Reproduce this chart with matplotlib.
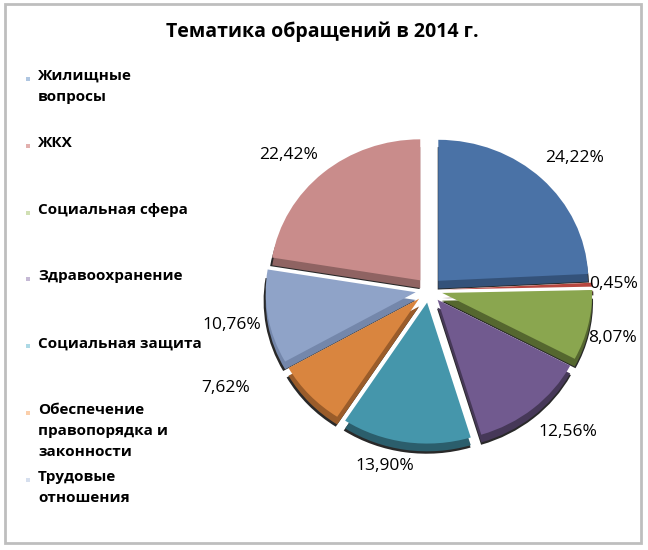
import matplotlib.pyplot as plt
from matplotlib.patches import Rectangle
import numpy as np

plt.rcParams['font.family'] = ['Open Sans', 'DejaVu Sans']

title = 'Тематика обращений в 2014 г.'
categories = ['Жилищные\nвопросы', 'ЖКХ', 'Социальная сфера', 'Здравоохранение',
              'Социальная защита', 'Обеспечение\nправопорядка и\nзаконности',
              'Трудовые\nотношения']
values = [24.22, 0.45, 8.07, 12.56, 13.90, 7.62, 10.76, 22.42]

top_colors = ['#4A72A6', '#B7463F', '#8AA64F', '#715A8F', '#4596AB', '#D9853F', '#8FA3C8', '#C98C8B']
side_colors = ['#34527A', '#7E2E2A', '#55672F', '#463858', '#2B5E6C', '#9A5C2A', '#7487AB', '#8F6362']
legend_colors = ['#4F81BD', '#C0504D', '#9BBB59', '#8064A2', '#4BACC6', '#F79646', '#A5B8DB']
# label placement tuning (radius factor, angle shift in degrees)
label_r = [1.26, 1.14, 1.18, 1.28, 1.19, 1.44, 1.25, 1.25]
label_dang = [-2.7, 0, -2.4, 3.3, -5.5, -17, 0.6, 4.4]

W, H = 648, 550
fig = plt.figure(figsize=(W / 100, H / 100), dpi=100)

# border
fig.patches.append(Rectangle((5 / W, 7 / H), 636 / W, 539 / H, transform=fig.transFigure,
                             fill=False, edgecolor='#BEBEBE', linewidth=2))

fig.text(322 / W, 1 - 32 / H, title, ha='center', va='center',
         fontsize=14, fontweight='bold')

# pie axes: 1 unit = 150 px horizontally, 141 px vertically
cx, cy, rx, ry = 429, 290, 150, 141
ext = 1.6
ax = fig.add_axes([(cx - ext * rx) / W, (H - cy - ext * ry) / H, 2 * ext * rx / W, 2 * ext * ry / H])
explode = [0.09] * len(values)

# shadow
ax.pie(values, colors=['#111111'] * len(values), startangle=90, counterclock=False,
       explode=explode, radius=1.01, center=(-0.004, -0.062),
       wedgeprops=dict(linewidth=0, alpha=0.9))
# side faces
ax.pie(values, colors=side_colors, startangle=90, counterclock=False,
       explode=explode, center=(0, -0.055), wedgeprops=dict(linewidth=0))
# top faces
wedges, texts = ax.pie(values, colors=top_colors, startangle=90, counterclock=False,
                       explode=explode, labels=[f'{v:.2f}'.replace('.', ',') + '%' for v in values],
                       labeldistance=1.25, textprops=dict(fontsize=12.5),
                       wedgeprops=dict(linewidth=0))
for w, t, r, da, e in zip(wedges, texts, label_r, label_dang, explode):
    mid = np.deg2rad((w.theta1 + w.theta2) / 2)
    ang = np.deg2rad((w.theta1 + w.theta2) / 2 + da)
    t.set_position((e * np.cos(mid) + r * np.cos(ang), e * np.sin(mid) + r * np.sin(ang)))
    t.set_ha('center')
    t.set_va('center')
ax.set_xlim(-ext, ext)
ax.set_ylim(-ext, ext)
ax.set_aspect('auto')
ax.axis('off')

# legend
for i, (name, col) in enumerate(zip(categories, legend_colors)):
    y = 79 + i * 66.8
    fig.patches.append(Rectangle((26 / W, 1 - (y + 2) / H), 4 / W, 4 / H, transform=fig.transFigure,
                                 facecolor=col, edgecolor='none', alpha=0.45))
    fig.text(38 / W, 1 - (y - 10) / H, name, ha='left', va='top', fontsize=11,
             fontweight='bold', linespacing=1.65)

fig.savefig('out.png', dpi=100)
